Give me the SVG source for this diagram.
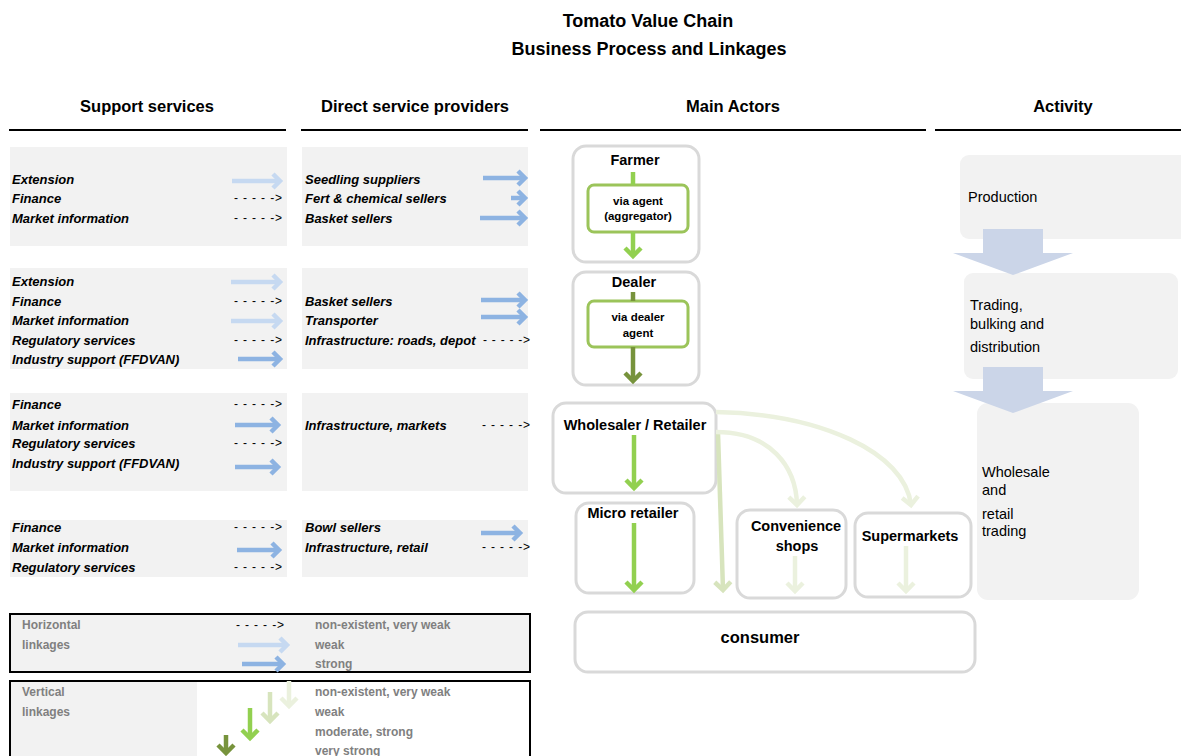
<svg xmlns="http://www.w3.org/2000/svg" width="1181" height="756" viewBox="0 0 1181 756">
  <style>
    .title { font-family: "Liberation Sans", Arial, sans-serif; font-weight: bold; font-size: 18px; fill: #000; text-anchor: middle; }
    .hdr { font-family: "Liberation Sans", Arial, sans-serif; font-weight: bold; font-size: 16.5px; fill: #000; text-anchor: middle; }
    .rule { stroke: #000; stroke-width: 2.2; }
    .panel { fill: #f2f2f2; }
    .svc { font-family: "Liberation Sans", Arial, sans-serif; font-weight: bold; font-style: italic; font-size: 13px; fill: #000; }
    .dash { font-family: "Liberation Sans", Arial, sans-serif; font-size: 12px; fill: #000; }
    .actor { fill: #fff; stroke: #d9d9d9; stroke-width: 3; }
    .inner { fill: #fff; stroke: #9bc45a; stroke-width: 3; }
    .alab { font-family: "Liberation Sans", Arial, sans-serif; font-weight: bold; font-size: 14.5px; fill: #000; text-anchor: middle; }
    .ilab { font-family: "Liberation Sans", Arial, sans-serif; font-weight: bold; font-size: 11.5px; fill: #000; text-anchor: middle; }
    .act { fill: #f2f2f2; }
    .actlab { font-family: "Liberation Sans", Arial, sans-serif; font-size: 14.5px; fill: #000; }
    .bigarrow { fill: #cbd5e8; }
    .leg { font-family: "Liberation Sans", Arial, sans-serif; font-weight: bold; font-size: 12px; fill: #808080; }
    .legbox { stroke: #000; stroke-width: 2; }
    .a { fill: none; stroke-width: 4.5; }
    .blueL { stroke: #c6d9f1; }
    .blueM { stroke: #8db3e2; }
    .gV { stroke: #ebf1de; }
    .gP { stroke: #d7e4bd; }
    .gM { stroke: #92d050; }
    .gD { stroke: #77933c; }
  </style>
  <defs>
    <marker id="hBlueL" markerUnits="userSpaceOnUse" viewBox="0 0 20 20" markerWidth="20" markerHeight="20" refX="11" refY="10" orient="auto" overflow="visible">
      <path d="M4,3 L11,10 L4,17" fill="none" stroke="#c6d9f1" stroke-width="4.5"/>
    </marker>
    <marker id="hBlueM" markerUnits="userSpaceOnUse" viewBox="0 0 20 20" markerWidth="20" markerHeight="20" refX="11" refY="10" orient="auto" overflow="visible">
      <path d="M4,3 L11,10 L4,17" fill="none" stroke="#8db3e2" stroke-width="4.5"/>
    </marker>
    <marker id="hGV" markerUnits="userSpaceOnUse" viewBox="0 0 20 20" markerWidth="20" markerHeight="20" refX="11" refY="10" orient="auto" overflow="visible">
      <path d="M3,2 L11,10 L3,18" fill="none" stroke="#ebf1de" stroke-width="4.5"/>
    </marker>
    <marker id="hGP" markerUnits="userSpaceOnUse" viewBox="0 0 20 20" markerWidth="20" markerHeight="20" refX="11" refY="10" orient="auto" overflow="visible">
      <path d="M3,2 L11,10 L3,18" fill="none" stroke="#d7e4bd" stroke-width="4.5"/>
    </marker>
    <marker id="hGM" markerUnits="userSpaceOnUse" viewBox="0 0 20 20" markerWidth="20" markerHeight="20" refX="11" refY="10" orient="auto" overflow="visible">
      <path d="M3,2 L11,10 L3,18" fill="none" stroke="#92d050" stroke-width="4.5"/>
    </marker>
    <marker id="hGD" markerUnits="userSpaceOnUse" viewBox="0 0 20 20" markerWidth="20" markerHeight="20" refX="11" refY="10" orient="auto" overflow="visible">
      <path d="M3,2 L11,10 L3,18" fill="none" stroke="#77933c" stroke-width="4.5"/>
    </marker>
  </defs>

  <rect width="1181" height="756" fill="#fff"/>

  <!-- Title -->
  <g id="title">
    <text class="title" x="648" y="27">Tomato Value Chain</text>
    <text class="title" x="649" y="55">Business Process and Linkages</text>
  </g>

  <!-- Column headers -->
  <g id="headers">
    <text class="hdr" x="147" y="112">Support services</text>
    <text class="hdr" x="415" y="112">Direct service providers</text>
    <text class="hdr" x="733" y="112">Main Actors</text>
    <text class="hdr" x="1063" y="112">Activity</text>
    <line class="rule" x1="9" y1="130" x2="286" y2="130"/>
    <line class="rule" x1="301" y1="130" x2="528" y2="130"/>
    <line class="rule" x1="540" y1="130" x2="926" y2="130"/>
    <line class="rule" x1="935" y1="130" x2="1181" y2="130"/>
  </g>

  <!-- Support services, row 1 (production) -->
  <g id="support-1">
    <rect class="panel" x="10" y="147" width="277" height="99"/>
    <text class="svc" x="12" y="184">Extension</text>
    <text class="svc" x="12" y="203">Finance</text>
    <text class="svc" x="12" y="223">Market information</text>
    <line class="a blueL" x1="232" y1="181" x2="280" y2="181" marker-end="url(#hBlueL)"/>
    <text class="dash" x="234" y="202" textLength="48">- - - - -&gt;</text>
    <text class="dash" x="234" y="222" textLength="48">- - - - -&gt;</text>
  </g>
  <g id="direct-1">
    <rect class="panel" x="302" y="147" width="226" height="99"/>
    <text class="svc" x="305" y="184">Seedling suppliers</text>
    <text class="svc" x="305" y="203">Fert &amp; chemical sellers</text>
    <text class="svc" x="305" y="223">Basket sellers</text>
    <line class="a blueM" x1="483" y1="178" x2="525" y2="178" marker-end="url(#hBlueM)"/>
    <line class="a blueM" x1="511" y1="198" x2="525" y2="198" marker-end="url(#hBlueM)"/>
    <line class="a blueM" x1="480" y1="218" x2="525" y2="218" marker-end="url(#hBlueM)"/>
  </g>

  <!-- Support services, row 2 (trading) -->
  <g id="support-2">
    <rect class="panel" x="10" y="268" width="277" height="101"/>
    <text class="svc" x="12" y="286">Extension</text>
    <text class="svc" x="12" y="306">Finance</text>
    <text class="svc" x="12" y="325">Market information</text>
    <text class="svc" x="12" y="345">Regulatory services</text>
    <text class="svc" x="12" y="364">Industry support (FFDVAN)</text>
    <line class="a blueL" x1="231" y1="282" x2="280" y2="282" marker-end="url(#hBlueL)"/>
    <text class="dash" x="234" y="305" textLength="48">- - - - -&gt;</text>
    <line class="a blueL" x1="231" y1="321" x2="280" y2="321" marker-end="url(#hBlueL)"/>
    <text class="dash" x="234" y="344" textLength="48">- - - - -&gt;</text>
    <line class="a blueM" x1="238" y1="359" x2="280" y2="359" marker-end="url(#hBlueM)"/>
  </g>
  <g id="direct-2">
    <rect class="panel" x="302" y="268" width="226" height="101"/>
    <text class="svc" x="305" y="306">Basket sellers</text>
    <text class="svc" x="305" y="325">Transporter</text>
    <text class="svc" x="305" y="345">Infrastructure: roads, depot</text>
    <line class="a blueM" x1="481" y1="300" x2="525" y2="300" marker-end="url(#hBlueM)"/>
    <line class="a blueM" x1="481" y1="317" x2="525" y2="317" marker-end="url(#hBlueM)"/>
    <text class="dash" x="483" y="344" textLength="47">- - - - -&gt;</text>
  </g>

  <!-- Support services, row 3 (wholesale) -->
  <g id="support-3">
    <rect class="panel" x="10" y="393" width="277" height="98"/>
    <text class="svc" x="12" y="409">Finance</text>
    <text class="svc" x="12" y="430">Market information</text>
    <text class="svc" x="12" y="448">Regulatory services</text>
    <text class="svc" x="12" y="468">Industry support (FFDVAN)</text>
    <text class="dash" x="234" y="408" textLength="48">- - - - -&gt;</text>
    <line class="a blueM" x1="235" y1="425" x2="278" y2="425" marker-end="url(#hBlueM)"/>
    <text class="dash" x="234" y="447" textLength="48">- - - - -&gt;</text>
    <line class="a blueM" x1="235" y1="467" x2="278" y2="467" marker-end="url(#hBlueM)"/>
  </g>
  <g id="direct-3">
    <rect class="panel" x="302" y="393" width="226" height="98"/>
    <text class="svc" x="305" y="430">Infrastructure, markets</text>
    <text class="dash" x="482" y="429" textLength="48">- - - - -&gt;</text>
  </g>

  <!-- Support services, row 4 (retail) -->
  <g id="support-4">
    <rect class="panel" x="10" y="520" width="277" height="57"/>
    <text class="svc" x="12" y="532">Finance</text>
    <text class="svc" x="12" y="552">Market information</text>
    <text class="svc" x="12" y="572">Regulatory services</text>
    <text class="dash" x="234" y="531" textLength="48">- - - - -&gt;</text>
    <line class="a blueM" x1="237" y1="550" x2="279" y2="550" marker-end="url(#hBlueM)"/>
    <text class="dash" x="234" y="571" textLength="48">- - - - -&gt;</text>
  </g>
  <g id="direct-4">
    <rect class="panel" x="302" y="520" width="226" height="57"/>
    <text class="svc" x="305" y="532">Bowl sellers</text>
    <text class="svc" x="305" y="552">Infrastructure, retail</text>
    <line class="a blueM" x1="481" y1="533" x2="520" y2="533" marker-end="url(#hBlueM)"/>
    <text class="dash" x="482" y="551" textLength="48">- - - - -&gt;</text>
  </g>

  <!-- Legend: horizontal linkages -->
  <g id="legend-horizontal">
    <rect class="panel legbox" x="10" y="614" width="520" height="58"/>
    <text class="leg" x="22" y="629">Horizontal</text>
    <text class="leg" x="22" y="649">linkages</text>
    <text class="dash" x="236" y="629" textLength="48">- - - - -&gt;</text>
    <line class="a blueL" x1="238" y1="645" x2="287" y2="645" marker-end="url(#hBlueL)"/>
    <line class="a blueM" x1="242" y1="664" x2="283" y2="664" marker-end="url(#hBlueM)"/>
    <text class="leg" x="315" y="629">non-existent, very weak</text>
    <text class="leg" x="315" y="649">weak</text>
    <text class="leg" x="315" y="668">strong</text>
  </g>

  <!-- Legend: vertical linkages -->
  <g id="legend-vertical">
    <rect x="10" y="681" width="520" height="80" fill="#fff" class="legbox"/>
    <rect class="panel" x="11" y="682" width="186" height="74"/>
    <text class="leg" x="22" y="696">Vertical</text>
    <text class="leg" x="22" y="716">linkages</text>
    <line class="a gV" x1="289" y1="681" x2="289" y2="706" marker-end="url(#hGV)"/>
    <line class="a gP" x1="270" y1="692" x2="270" y2="721" marker-end="url(#hGP)"/>
    <line class="a gM" x1="250" y1="708" x2="250" y2="738" marker-end="url(#hGM)"/>
    <line class="a gD" x1="226" y1="735" x2="226" y2="753" marker-end="url(#hGD)"/>
    <text class="leg" x="315" y="696">non-existent, very weak</text>
    <text class="leg" x="315" y="716">weak</text>
    <text class="leg" x="315" y="736">moderate, strong</text>
    <text class="leg" x="315" y="755">very strong</text>
  </g>

  <!-- Main actors -->
  <g id="farmer">
    <rect class="actor" x="573" y="146" width="126" height="116" rx="13"/>
    <text class="alab" x="635" y="165">Farmer</text>
  </g>
  <g id="agent">
    <rect class="inner" x="588" y="185" width="100" height="47" rx="6"/>
    <text class="ilab" x="638" y="205">via agent</text>
    <text class="ilab" x="638" y="220">(aggregator)</text>
  </g>
  <g id="dealer">
    <rect class="actor" x="573" y="272" width="126" height="113" rx="13"/>
    <text class="alab" x="634" y="287">Dealer</text>
  </g>
  <g id="dealer-agent">
    <rect class="inner" x="588" y="301" width="100" height="46" rx="6"/>
    <text class="ilab" x="638" y="321">via dealer</text>
    <text class="ilab" x="638" y="337">agent</text>
  </g>
  <g id="wholesaler">
    <rect class="actor" x="553" y="403" width="163" height="90" rx="13"/>
    <text class="alab" x="635" y="430">Wholesaler / Retailer</text>
  </g>
  <g id="micro-retailer">
    <rect class="actor" x="576" y="503" width="118" height="90" rx="13"/>
    <text class="alab" x="633" y="518">Micro retailer</text>
  </g>
  <g id="convenience">
    <rect class="actor" x="737" y="510" width="109" height="88" rx="13"/>
    <text class="alab" x="796" y="531">Convenience</text>
    <text class="alab" x="797" y="551">shops</text>
  </g>
  <g id="supermarkets">
    <rect class="actor" x="855" y="513" width="116" height="84" rx="13"/>
    <text class="alab" x="910" y="541">Supermarkets</text>
  </g>
  <g id="consumer">
    <rect class="actor" x="575" y="612" width="400" height="60" rx="13"/>
    <text class="alab" x="760" y="643" style="font-size:16.5px">consumer</text>
  </g>

  <!-- Flows between actors -->
  <g id="connectors">
    <line class="a gM" x1="633" y1="172" x2="633" y2="185"/>
    <line class="a gM" x1="633" y1="232" x2="633" y2="256" marker-end="url(#hGM)"/>
    <line class="a gD" x1="633" y1="292" x2="633" y2="301"/>
    <line class="a gD" x1="633" y1="347" x2="633" y2="381" marker-end="url(#hGD)"/>
    <line class="a gM" x1="634" y1="435" x2="634" y2="488" marker-end="url(#hGM)"/>
    <line class="a gM" x1="634" y1="523" x2="634" y2="590" marker-end="url(#hGM)"/>
    <line class="a gV" x1="795" y1="556" x2="795" y2="591" marker-end="url(#hGV)"/>
    <line class="a gV" x1="906" y1="546" x2="906" y2="591" marker-end="url(#hGV)"/>
    <path class="a gP" d="M718,433 L723,590" stroke="#dde8c8" marker-end="url(#hGP)"/>
    <path class="a gV" d="M716,412 C820,414 905,452 911,505" marker-end="url(#hGV)"/>
    <path class="a gV" d="M716,432 C770,432 796,466 797,505" marker-end="url(#hGV)"/>
  </g>

  <!-- Activity stages -->
  <g id="production">
    <rect class="act" x="960" y="155" width="230" height="84" rx="9"/>
    <text class="actlab" x="968" y="202">Production</text>
  </g>
  <g id="trading">
    <rect class="act" x="964" y="273" width="214" height="106" rx="9"/>
    <text class="actlab" x="970" y="310">Trading,</text>
    <text class="actlab" x="970" y="329">bulking and</text>
    <text class="actlab" x="970" y="352">distribution</text>
  </g>
  <g id="wholesale-retail">
    <rect class="act" x="977" y="403" width="162" height="197" rx="11"/>
    <text class="actlab" x="982" y="477">Wholesale</text>
    <text class="actlab" x="982" y="495">and</text>
    <text class="actlab" x="982" y="519">retail</text>
    <text class="actlab" x="982" y="536">trading</text>
  </g>
  <g id="activity-flow">
    <polygon class="bigarrow" points="983,229 1043,229 1043,253 1073,253 1013,275 953,253 983,253"/>
    <polygon class="bigarrow" points="983,367 1043,367 1043,391 1073,391 1013,413 953,391 983,391"/>
  </g>
</svg>
